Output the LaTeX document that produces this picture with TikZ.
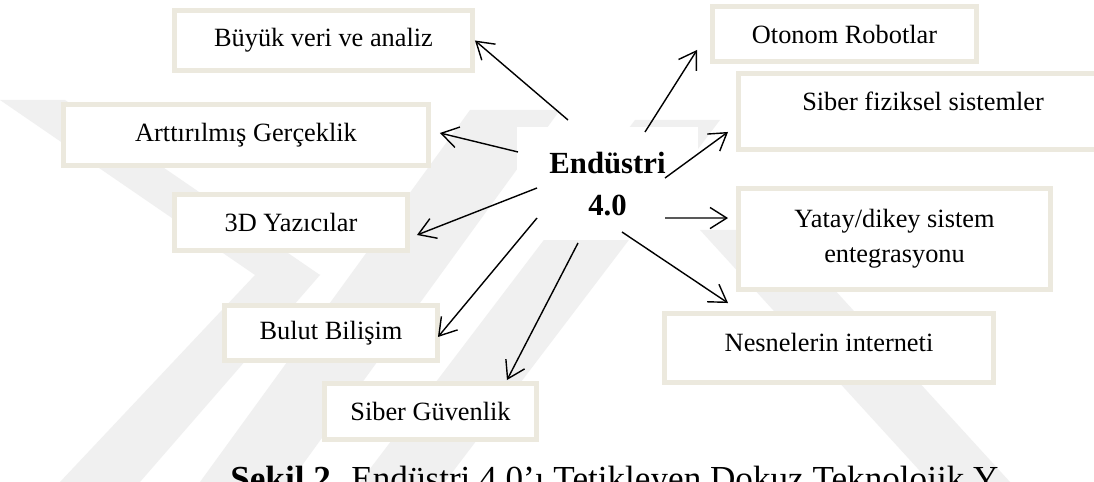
\documentclass[tikz,border=0pt]{standalone}
\usepackage{fontspec}
\setmainfont{Liberation Serif}
\usetikzlibrary{arrows.meta,calc}
\definecolor{boxedge}{RGB}{236,233,222}
\definecolor{wmark}{RGB}{240,240,240}
\tikzset{
  techbox/.style 2 args={draw=boxedge, fill=white, line width=2.8pt, inner sep=0pt,
    minimum width=#1*0.02cm, minimum height=#2*0.02cm,
    font=\fontsize{15}{20}\selectfont, align=center},
  hub/.style={fill=white, inner sep=0pt, minimum width=181*0.02cm, minimum height=113*0.02cm,
    font=\bfseries\fontsize{17.5}{24}\selectfont, align=center},
  link/.style={draw=black, line width=0.8pt, -{Straight Barb[length=9.5pt,width=12pt,line width=0.8pt]}},
  band/.style={fill=wmark, draw=none},
  caption/.style={anchor=base west, inner sep=0pt, font=\fontsize{20}{24}\selectfont},
}
\begin{document}
\begin{tikzpicture}[x=0.02cm, y=-0.02cm]
  \useasboundingbox (0,0) rectangle (1094,482);
  \clip (0,0) rectangle (1094,482);
  \fill[white] (0,0) rectangle (1094,482);

  % faint background emblem
  \fill[band] (0,100) -- (65,100) -- (320,275) -- (255,275) -- cycle;
  \fill[band] (60,482) -- (140,482) -- (320,275) -- (255,275) -- cycle;
  \fill[band] (200,482) -- (290,482) -- (560,110) -- (470,110) -- cycle;
  \fill[band] (360,482) -- (445,482) -- (720,120) -- (635,120) -- cycle;
  \fill[band] (700,230) -- (780,230) -- (1010,482) -- (930,482) -- cycle;

  % technology boxes
  \node[techbox={298}{60}] (b1) at (323.5,40.5) {Büyük veri ve analiz};
  \node[techbox={365}{61}] (b2) at (246,135) {Arttırılmış Gerçeklik};
  \node[techbox={233}{56}] (b3) at (291,222.5) {3D Yazıcılar};
  \node[techbox={213}{55}] (b4) at (331,333) {Bulut Bilişim};
  \node[techbox={212}{56}] (b5) at (430.5,411.5) {Siber Güvenlik};
  \node[techbox={264}{55}] (b6) at (844.5,34) {Otonom Robotlar};
  \node[techbox={369}{76}, text depth=12pt] (b7) at (923,111.5) {Siber fiziksel sistemler};
  \node[techbox={312}{101}] (b8) at (894.5,239) {Yatay/dikey sistem\\entegrasyonu};
  \node[techbox={329}{69}, text depth=6.8pt] (b9) at (829,348) {Nesnelerin interneti};

  % central concept
  \node[hub] (ctr) at (607.5,184) {Endüstri\\4.0};

  % spokes
  \draw[link] ([shift={(-39.5,-64)}]ctr.center) -- (b1.east);
  \draw[link] ([shift={(-89.5,-32)}]ctr.center) -- ([shift={(9,-2)}]b2.east);
  \draw[link] ([shift={(-70.5,4)}]ctr.center) -- ([shift={(7,12.5)}]b3.east);
  \draw[link] ([shift={(-70.5,34)}]ctr.center) -- ([shift={(-2,4)}]b4.east);
  \draw[link] ([shift={(-29.5,59)}]ctr.center) -- ([shift={(-32,-1)}]b5.north east);
  \draw[link] ([shift={(37.5,-52)}]ctr.center) -- ([shift={(-13,-14)}]b6.south west);
  \draw[link] ([shift={(57.5,-6)}]ctr.center) -- ([shift={(-8,-20)}]b7.south west);
  \draw[link] ([shift={(57.5,34)}]ctr.center) -- ([shift={(-8,32)}]b8.north west);
  \draw[link] ([shift={(14.5,48)}]ctr.center) -- ([shift={(66,-8)}]b9.north west);

  % figure caption, cut by the lower edge
  \node[caption] (cap) at (230,490) {\textbf{Şekil 2.} Endüstri 4.0'ı Tetikleyen Dokuz Teknolojik Y};
\end{tikzpicture}
\end{document}
